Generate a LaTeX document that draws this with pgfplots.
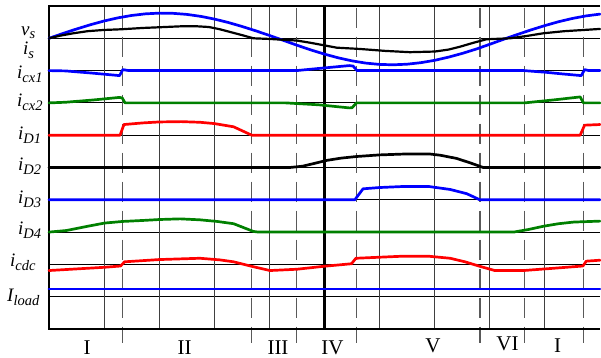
\documentclass[border=0pt]{standalone}
\usepackage{pgfplots}
\pgfplotsset{compat=1.18}
\usepackage{fontspec}
\setmainfont{Liberation Serif}
\definecolor{cblue}{RGB}{0,0,255}
\definecolor{cgreen}{RGB}{0,128,0}
\definecolor{cred}{RGB}{255,0,0}
\newcommand{\mainf}{\fontsize{19bp}{20bp}\selectfont\itshape}
\newcommand{\sub}[2][4bp]{\raisebox{-#1}{\fontsize{14.5bp}{15bp}\selectfont\itshape #2}}
\begin{document}
\begin{tikzpicture}
\useasboundingbox (-49bp,-29bp) rectangle (552bp,329bp);
\begin{axis}[
  scale only axis, width=551bp, height=323bp,
  xmin=0, xmax=10, ymin=0, ymax=10,
  hide axis, clip=false,
  every axis plot/.append style={line join=round, line cap=round},
]
% horizontal grid
\foreach \yy in {1,...,9} {\edef\tmp{\noexpand\draw[black, line width=0.8bp] (axis cs:0,\yy) -- (axis cs:10,\yy);}\tmp}
% vertical grid
\foreach \xx in {1,2,3,4,6,7,8,9} {\edef\tmp{\noexpand\draw[black!75, line width=0.9bp] (axis cs:\xx,0) -- (axis cs:\xx,10);}\tmp}
\draw[black, line width=2.4bp] (axis cs:5,0) -- (axis cs:5,10);
% dashed lines
\foreach \xx in {1.337,3.679,4.488,5.577,7.822,8.626,9.704} {\edef\tmp{\noexpand\draw[black!65, line width=1.1bp, dash pattern=on 20bp off 9bp] (axis cs:\xx,9.95) -- (axis cs:\xx,-0.43);}\tmp}
% frame
\draw[black, line width=2bp] (axis cs:10,10) -- (axis cs:0,10) -- (axis cs:0,0) -- (axis cs:10,0);

% v_s
\addplot[cblue, line width=2.7bp] coordinates {
(0,9.00) (0.25,9.147) (0.5,9.288) (0.75,9.419) (1.0,9.536) (1.25,9.633) (1.5,9.707) (1.75,9.757)
(2.0,9.779) (2.25,9.773) (2.5,9.740) (2.75,9.680) (3.0,9.596) (3.25,9.491) (3.5,9.368) (3.75,9.233)
(4.0,9.088) (4.25,8.938) (4.5,8.786) (4.75,8.641) (5.0,8.510) (5.25,8.395) (5.5,8.301) (5.75,8.232)
(6.0,8.191) (6.25,8.180) (6.5,8.198) (6.75,8.246) (7.0,8.318) (7.25,8.416) (7.5,8.532) (7.75,8.665)
(8.0,8.815) (8.25,8.969) (8.5,9.118) (8.75,9.261) (9.0,9.394) (9.25,9.514) (9.5,9.615) (9.75,9.694) (10,9.749)};
% i_s
\addplot[black, line width=2.2bp] coordinates {
(0,9.0) (0.2,9.08) (0.44,9.155) (0.7,9.22) (0.985,9.257) (1.32,9.28) (1.7,9.32) (1.98,9.34) (2.38,9.37)
(2.7,9.37) (2.9,9.35) (3.1,9.28) (3.3,9.19) (3.5,9.1) (3.71,9.0) (4.0,8.98) (4.5,8.93) (4.75,8.86)
(5.0,8.78) (5.22,8.71) (5.64,8.67) (6.1,8.61) (6.55,8.57) (7.0,8.59) (7.25,8.65) (7.46,8.74) (7.7,8.86)
(7.94,8.97) (8.37,9.0) (8.7,9.08) (8.97,9.155) (9.35,9.22) (9.7,9.257) (10,9.29)};
% i_cx1
\addplot[cblue, line width=2.7bp] coordinates {
(0,8.0) (0.3,7.99) (0.8,7.92) (1.28,7.845) (1.34,8.03) (1.45,8.0) (4.49,8.0) (4.98,8.08) (5.45,8.155)
(5.52,8.14) (5.59,8.0) (8.62,8.0) (9.0,7.95) (9.3,7.9) (9.66,7.845) (9.72,8.03) (9.8,8.0) (10,8.0)};
% i_cx2
\addplot[cgreen, line width=2.7bp] coordinates {
(0,7.0) (0.3,7.02) (0.8,7.09) (1.28,7.17) (1.33,7.15) (1.38,7.0) (4.3,7.0) (4.9,6.94) (5.45,6.845)
(5.5,6.85) (5.58,7.0) (8.63,7.0) (9.2,7.1) (9.64,7.185) (9.7,7.0) (10,7.0)};
% i_D1
\addplot[cred, line width=2.7bp] coordinates {
(0,6.0) (1.29,6.0) (1.36,6.33) (1.7,6.38) (2.0,6.41) (2.4,6.42) (2.74,6.40) (3.0,6.36) (3.35,6.26)
(3.68,6.0) (9.64,6.0) (9.72,6.31) (10,6.33)};
% i_D2
\addplot[black, line width=2.7bp] coordinates {
(0,5.0) (4.37,5.0) (4.6,5.04) (4.8,5.12) (5.04,5.22) (5.3,5.29) (5.58,5.34) (6.0,5.39) (6.5,5.42)
(6.9,5.42) (7.1,5.38) (7.4,5.28) (7.65,5.14) (7.88,5.0) (10,5.0)};
% i_D3
\addplot[cblue, line width=2.7bp] coordinates {
(0,4.0) (5.55,4.0) (5.70,4.34) (6.0,4.38) (6.4,4.41) (6.9,4.41) (7.28,4.32) (7.58,4.19) (7.82,4.0) (10,4.0)};
% i_D4
\addplot[cgreen, line width=2.7bp] coordinates {
(0,3.0) (0.32,3.05) (0.7,3.18) (1.01,3.28) (1.34,3.33) (1.7,3.36) (2.01,3.39) (2.38,3.41) (2.74,3.38)
(3.05,3.33) (3.35,3.26) (3.71,3.02) (3.8,3.0) (8.43,3.0) (8.7,3.08) (8.97,3.18) (9.25,3.26) (9.52,3.31) (10,3.34)};
% i_cdc
\addplot[cred, line width=2.7bp] coordinates {
(0,1.81) (0.5,1.86) (1.0,1.91) (1.30,1.95) (1.37,2.08) (2.0,2.15) (2.74,2.19) (3.1,2.14) (3.35,2.08)
(3.68,1.94) (4.01,1.81) (4.5,1.85) (4.98,1.94) (5.49,2.02) (5.57,2.19) (6.37,2.25) (6.91,2.25) (7.28,2.19)
(7.55,2.08) (7.82,1.94) (8.09,1.81) (8.61,1.81) (9.0,1.86) (9.69,1.95) (9.75,2.1) (10,2.13)};
% I_load
\addplot[cblue, line width=2.7bp] coordinates {(0,1.24) (10,1.24)};
\end{axis}
% left labels
\begin{scope}[every node/.style={inner sep=0pt, anchor=base west}]
\node at (-28bp,293bp) {\mainf v\sub[3bp]{s}};
\node at (-26bp,274.5bp) {\mainf i\sub{s}};
\node at (-32bp,250.7bp) {\mainf i\sub{cx1}};
\node at (-32bp,222.3bp) {\mainf i\sub{cx2}};
\node at (-31bp,189.5bp) {\mainf i\sub{D1}};
\node at (-31bp,158bp) {\mainf i\sub{D2}};
\node at (-31bp,125.7bp) {\mainf i\sub{D3}};
\node at (-31bp,94bp) {\mainf i\sub{D4}};
\node at (-39bp,62.5bp) {\mainf i\sub{cdc}};
\node at (-42bp,27.5bp) {\mainf I\sub{load}};
\end{scope}
\begin{scope}[every node/.style={inner sep=0pt, anchor=base, font=\fontsize{21bp}{22bp}\selectfont}]
\node at (38bp,-25bp) {I};
\node at (135.5bp,-25.5bp) {II};
\node at (229bp,-25bp) {III};
\node at (283.5bp,-25.5bp) {IV};
\node at (384bp,-23bp) {V};
\node at (458.5bp,-21bp) {VI};
\node at (508.5bp,-23bp) {I};
\end{scope}
\end{tikzpicture}
\end{document}
